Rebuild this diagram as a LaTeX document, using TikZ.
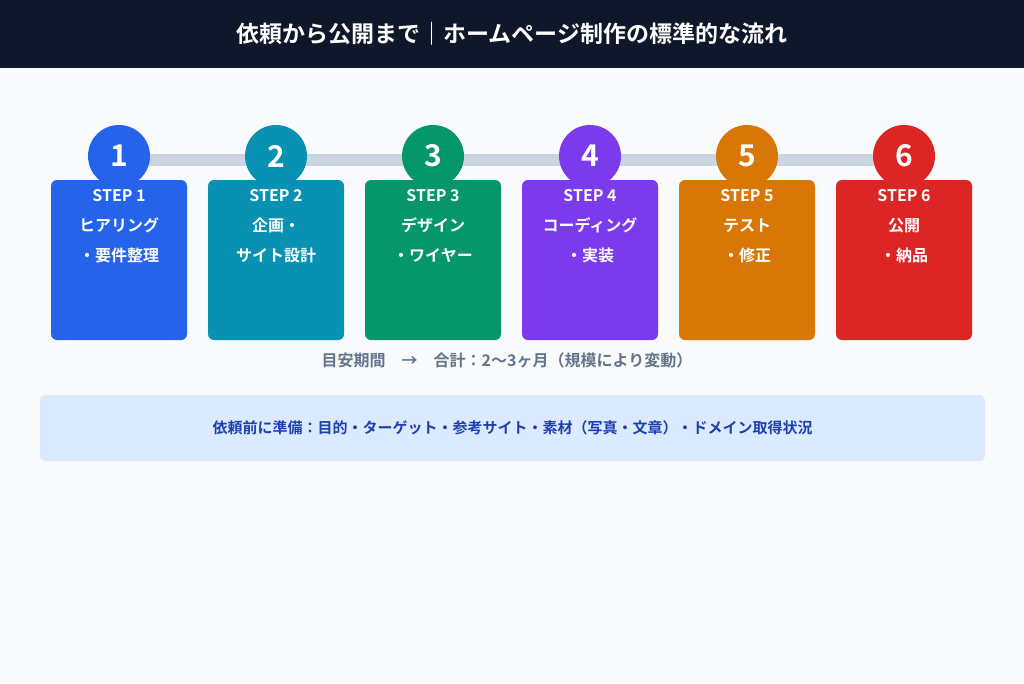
\documentclass[tikz,border=0pt]{standalone}
\usepackage{fontspec}
\setmainfont{Noto Sans CJK JP}[BoldFont={* Bold}]
\usetikzlibrary{positioning}
\definecolor{headbg}{HTML}{0F172A}
\definecolor{pagebg}{HTML}{F8FAFC}
\definecolor{barcol}{HTML}{CBD5E1}
\definecolor{notebg}{HTML}{DBEAFE}
\definecolor{notetx}{HTML}{1E40AF}
\definecolor{graytx}{HTML}{64748B}
\definecolor{cA}{HTML}{2563EB}
\definecolor{cB}{HTML}{0891B2}
\definecolor{cC}{HTML}{059669}
\definecolor{cD}{HTML}{7C3AED}
\definecolor{cE}{HTML}{D97706}
\definecolor{cF}{HTML}{DC2626}
\tikzset{
  stepbox/.style={rectangle, rounded corners=6pt, minimum width=136pt, minimum height=160pt, inner sep=0pt},
  stepnum/.style={circle, minimum size=62pt, inner sep=0pt, text=white, font=\bfseries\fontsize{30}{30}\selectfont},
  steptxt/.style={text=white, align=center, font=\bfseries\fontsize{16}{30}\selectfont},
}
\begin{document}
\begin{tikzpicture}[x=1pt,y=-1pt]
	%Background
	\fill[pagebg] (0,0) rectangle (1024,683);
	\fill[headbg] (0,0) rectangle (1024,68);
	\node[text=white, font=\bfseries\fontsize{23}{23}\selectfont] (title) at (512,34) {依頼から公開まで｜ホームページ制作の標準的な流れ};
	%Bar behind circles
	\fill[barcol] (119,154) rectangle (904,166);
	%Steps
	\foreach \i/\x/\c/\t in {1/119/cA/{ヒアリング\\・要件整理}, 2/276/cB/{企画・\\サイト設計}, 3/433/cC/{デザイン\\・ワイヤー}, 4/590/cD/{コーディング\\・実装}, 5/747/cE/{テスト\\・修正}, 6/904/cF/{公開\\・納品}}{
		\node[stepbox, fill=\c] (box\i) at (\x,260) {};
		\node[stepnum, fill=\c] (num\i) at (\x,156) {\i};
		\node[steptxt, below=6pt of box\i.north] (lab\i) {STEP \i\\\t};
	}
	%Duration
	\node[text=graytx, font=\bfseries\fontsize{16}{16}\selectfont] (dur) at (507,360) {目安期間\quad →\quad 合計：2〜3ヶ月（規模により変動）};
	%Preparation note
	\node[rectangle, rounded corners=6pt, fill=notebg, minimum width=945pt, minimum height=66pt, text=notetx, font=\bfseries\fontsize{15}{15}\selectfont] (prep) at (512.5,428) {依頼前に準備：目的・ターゲット・参考サイト・素材（写真・文章）・ドメイン取得状況};
\end{tikzpicture}
\end{document}
